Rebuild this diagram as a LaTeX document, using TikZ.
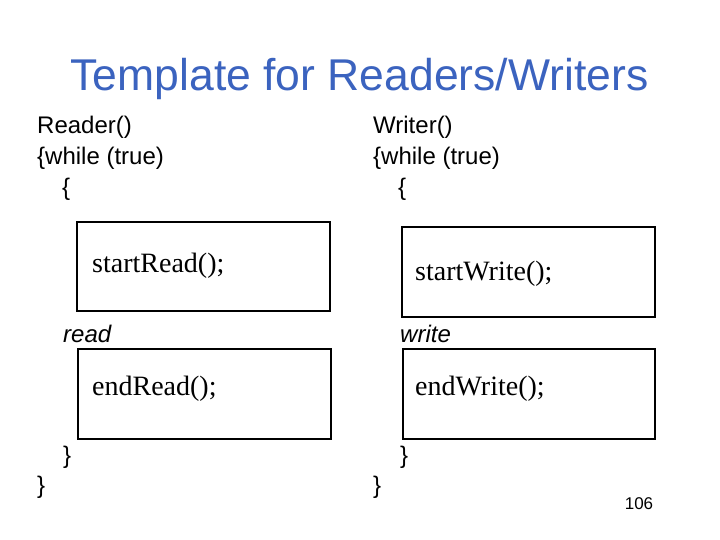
\documentclass[tikz,border=0pt]{standalone}
\usepackage{fontspec}
\setmainfont{Liberation Sans}
\newfontfamily\serifbox{Liberation Serif}
\definecolor{titleblue}{RGB}{59,99,191}
\tikzset{
  txt/.style={anchor=base west, inner sep=0pt, font=\fontsize{24}{28}\selectfont},
  boxtxt/.style={anchor=base west, inner sep=0pt, font=\serifbox\fontsize{28}{32}\selectfont},
  codebox/.style={draw=black, line width=1.8pt},
  lbl/.style={anchor=base west, inner sep=0pt, font=\fontsize{24}{28}\selectfont\itshape}
}
\begin{document}
\begin{tikzpicture}[x=1pt,y=-1pt]
\useasboundingbox[fill=white] (0,0) rectangle (720,540);
\node[anchor=base, inner sep=0pt, text=titleblue, font=\fontsize{44.5}{50}\selectfont] (title) at (359.5,91) {Template for Readers/Writers};
% left column
\node[txt] (r1) at (37,134) {Reader()};
\node[txt] (r2) at (37,165) {\{while (true)};
\node[txt] (r3) at (62,196) {\{};
\draw[codebox] (77,222) rectangle (330,311);
\node[boxtxt] (sr) at (92,272) {startRead();};
\node[lbl] (rd) at (63,342) {read};
\draw[codebox] (78,349) rectangle (331,439);
\node[boxtxt] (er) at (92,395) {endRead();};
\node[txt] (r4) at (63,463) {\}};
\node[txt] (r5) at (37,493) {\}};
% right column
\node[txt] (w1) at (373,134) {Writer()};
\node[txt] (w2) at (373,165) {\{while (true)};
\node[txt] (w3) at (398,196) {\{};
\draw[codebox] (402,227) rectangle (655,317);
\node[boxtxt] (sw) at (415,280) {startWrite();};
\node[lbl] (wr) at (400,342) {write};
\draw[codebox] (403,349) rectangle (655,439);
\node[boxtxt] (ew) at (415,395) {endWrite();};
\node[txt] (w4) at (400,463) {\}};
\node[txt] (w5) at (373,493) {\}};
\node[anchor=base, inner sep=0pt, font=\fontsize{17}{20}\selectfont] (pg) at (639,509) {106};
\end{tikzpicture}
\end{document}
